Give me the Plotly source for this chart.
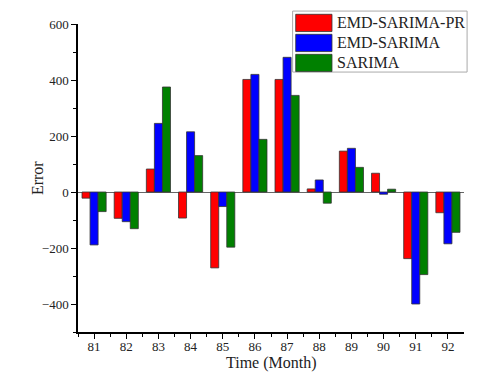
import plotly.graph_objects as go

months = [81, 82, 83, 84, 85, 86, 87, 88, 89, 90, 91, 92]
emd_sarima_pr = [-22, -94, 82, -93, -271, 402, 402, 11, 146, 67, -238, -74]
emd_sarima = [-189, -106, 245, 215, -52, 420, 481, 43, 156, -8, -400, -185]
sarima = [-70, -131, 375, 130, -197, 188, 345, -40, 88, 10, -295, -144]

names = ["EMD-SARIMA-PR", "EMD-SARIMA", "SARIMA"]
series = [emd_sarima_pr, emd_sarima, sarima]
colors = ["#ff0000", "#0000ff", "#008000"]

font = "Liberation Serif, Times New Roman, serif"

fig = go.Figure()
for name, vals, col in zip(names, series, colors):
    fig.add_trace(go.Bar(
        x=months, y=vals, name=name,
        marker=dict(color=col, line=dict(color="#333333", width=0.8)),
        showlegend=False,
    ))

# Legend box drawn with shapes: large colour swatches beside series names
lx0, lx1, ly_top, ly_bot = 0.556, 1.008, 1.042, 0.844
row_h = 0.065
shapes = [dict(type="rect", xref="paper", yref="paper",
               x0=lx0, x1=lx1, y0=ly_bot, y1=ly_top,
               line=dict(color="#aaaaaa", width=1), fillcolor="white", layer="above")]
annotations = []
for i, (name, col) in enumerate(zip(names, colors)):
    yc = ly_top - 0.006 - row_h * (i + 0.5)
    shapes.append(dict(type="rect", xref="paper", yref="paper",
                       x0=0.564, x1=0.658,
                       y0=yc - 0.028, y1=yc + 0.028,
                       fillcolor=col, line=dict(color="#333333", width=0.8),
                       layer="above"))
    annotations.append(dict(x=0.667, y=yc, xref="paper", yref="paper",
                            text=name, showarrow=False, xanchor="left",
                            yanchor="middle",
                            font=dict(family=font, size=16, color="#222222")))

# Axis titles
annotations.append(dict(x=0.5, y=-0.1, xref="paper", yref="paper",
                        text="Time (Month)", showarrow=False,
                        xanchor="center", yanchor="middle",
                        font=dict(family=font, size=16, color="#222222")))
annotations.append(dict(x=-0.106, y=0.5, xref="paper", yref="paper",
                        text="Error", showarrow=False, textangle=-90,
                        xanchor="center", yanchor="middle",
                        font=dict(family=font, size=16, color="#222222")))

fig.update_layout(
    width=483, height=374,
    margin=dict(l=78, r=19, t=24, b=42),
    paper_bgcolor="white", plot_bgcolor="white",
    barmode="group", bargap=0.25, bargroupgap=0,
    font=dict(family=font, size=13, color="#222222"),
    shapes=shapes, annotations=annotations,
    xaxis=dict(
        range=[80.5, 92.5], tickmode="array", tickvals=months,
        ticktext=[str(m) for m in months],
        showline=True, linecolor="black", linewidth=1.5,
        ticks="outside", ticklen=5, tickwidth=1.2, tickcolor="black",
        ticklabelstandoff=-3,
        minor=dict(tickmode="array", tickvals=[m + 0.5 for m in months[:-1]] + [80.5],
                   ticks="outside", ticklen=3, tickwidth=1.2, tickcolor="black"),
        showgrid=False, zeroline=False,
        tickfont=dict(size=13),
    ),
    yaxis=dict(
        range=[-500, 600], tickmode="array", tickvals=[-400, -200, 0, 200, 400, 600],
        showline=True, linecolor="black", linewidth=1.5,
        ticks="outside", ticklen=5, tickwidth=1.2, tickcolor="black",
        minor=dict(tickmode="array", tickvals=[-500, -300, -100, 100, 300, 500],
                   ticks="outside", ticklen=3, tickwidth=1.2, tickcolor="black"),
        showgrid=False, zeroline=True, zerolinecolor="#666666", zerolinewidth=1,
        tickfont=dict(size=13),
    ),
)

fig.write_html("out.html")
